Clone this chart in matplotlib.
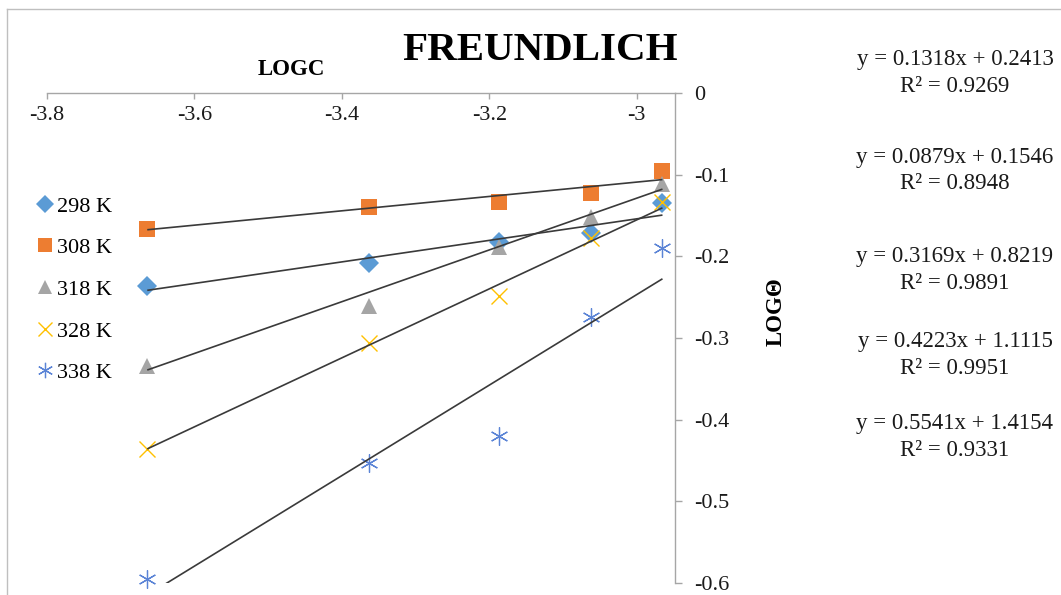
import matplotlib
matplotlib.use("Agg")
import matplotlib.pyplot as plt
from matplotlib.lines import Line2D
import numpy as np

plt.rcParams['font.family'] = ['Liberation Serif', 'DejaVu Serif']
plt.rcParams['axes.unicode_minus'] = False

# log of equilibrium concentration
log_c = [-3.664, -3.363, -3.187, -3.062, -2.965]

# log of adsorbed amount at each temperature
temps = ["298 K", "308 K", "318 K", "328 K", "338 K"]
log_q_298 = [-0.236, -0.208, -0.183, -0.171, -0.135]
log_q_308 = [-0.166, -0.139, -0.134, -0.123, -0.095]
log_q_318 = [-0.334, -0.261, -0.188, -0.152, -0.111]
log_q_328 = [-0.436, -0.306, -0.249, -0.177, -0.134]
log_q_338 = [-0.595, -0.453, -0.420, -0.274, -0.190]

# linear fits reported for each temperature
slopes = [0.1318, 0.0879, 0.3169, 0.4223, 0.5541]
intercepts = [0.2413, 0.1546, 0.8219, 1.1115, 1.4154]
r_squared = [0.9269, 0.8948, 0.9891, 0.9951, 0.9331]

x_ticks = [-3.8, -3.6, -3.4, -3.2, -3.0]
y_ticks = [0, -0.1, -0.2, -0.3, -0.4, -0.5, -0.6]

W, H = 1061, 595
fig = plt.figure(figsize=(W / 100, H / 100), dpi=100)

def px(x0, y0, x1, y1):
    return [x0 / W, 1 - y1 / H, (x1 - x0) / W, (y1 - y0) / H]

ax = fig.add_axes(px(47, 93, 675, 583))
ax.set_xlim(-3.8, -2.948)
ax.set_ylim(-0.6, 0)

styles = [
    dict(marker='D', color='#5B9BD5', ms=10.5, mew=0),
    dict(marker='s', color='#ED7D31', ms=11.5, mew=0),
    dict(marker='^', color='#A5A5A5', ms=12, mew=0),
    dict(marker='x', color='#FFC000', ms=12, mew=1.0),
    dict(marker=(6, 2, 0), color='#5B84D6', ms=13, mew=0.9),
]
series = [log_q_298, log_q_308, log_q_318, log_q_328, log_q_338]

x_arr = np.array(log_c)
for vals, st, m, b in zip(series, styles, slopes, intercepts):
    ax.plot([x_arr[0], x_arr[-1]], [m * x_arr[0] + b, m * x_arr[-1] + b],
            color='#3A3A3A', lw=1.2, zorder=3, solid_capstyle='butt')
    ax.plot(log_c, vals, linestyle='none', marker=st['marker'], color=st['color'],
            markersize=st['ms'], markeredgewidth=st['mew'], markeredgecolor=st['color'],
            clip_on=False, zorder=2)

# axes crossing at top (y=0) and right (x max)
ax.spines['top'].set_visible(False)
ax.spines['left'].set_visible(False)
ax.spines['bottom'].set_position(('data', 0))
for s in ('bottom', 'right'):
    ax.spines[s].set_color('#A6A6A6')
    ax.spines[s].set_linewidth(1.0)
ax.yaxis.tick_right()
ax.set_xticks(x_ticks)
ax.set_xticklabels([f"{v:g}" for v in x_ticks])
ax.set_yticks(y_ticks)
ax.set_yticklabels([f"{v:g}" for v in y_ticks])
ax.tick_params(axis='x', direction='out', length=4.3, width=1, color='#A6A6A6',
               labelsize=16, labelcolor='#1a1a1a', pad=5)
ax.tick_params(axis='y', direction='out', length=5, width=1, color='#A6A6A6',
               labelsize=16, labelcolor='#1a1a1a', pad=9)
ax.patch.set_visible(False)

# titles and axis names
fig.text(540 / W, 1 - 51 / H, "FREUNDLICH", ha='center', va='center',
         fontsize=29.5, fontweight='bold', color='black')
fig.text(291 / W, 1 - 69.5 / H, "LOGC", ha='center', va='center',
         fontsize=16.5, fontweight='bold', color='black')
fig.text(776 / W, 1 - 312 / H, "LOGΘ", ha='center', va='center', rotation=90,
         fontsize=16.5, fontweight='bold', color='black')

# regression equations
eq_y = [73, 170.5, 270, 355, 437]
for m, b, r2, yy in zip(slopes, intercepts, r_squared, eq_y):
    fig.text(955 / W, 1 - yy / H, f"y = {m:.4f}x + {b:.4f}\nR² = {r2:.4f}",
             ha='center', va='center', multialignment='center',
             fontsize=16.5, color='#1a1a1a', linespacing=1.34)

# legend
handles = [Line2D([], [], linestyle='none', marker=st['marker'], color=st['color'],
                  markersize=st['ms'] * 0.85, markeredgewidth=st['mew'],
                  markeredgecolor=st['color']) for st in styles]
fig.legend(handles, temps, loc='upper left', bbox_to_anchor=(37 / W, 1 - 196 / H),
           frameon=False, fontsize=16, handlelength=0.7, handletextpad=0.2,
           labelspacing=0.95, borderpad=0, borderaxespad=0)

# chart border
fig.add_artist(Line2D([7 / W, 7 / W], [0, 1 - 9 / H], color='#BFBFBF', lw=1.0))
fig.add_artist(Line2D([7 / W, 1], [1 - 9 / H, 1 - 9 / H], color='#BFBFBF', lw=1.0))

fig.savefig("out.png", dpi=100)
